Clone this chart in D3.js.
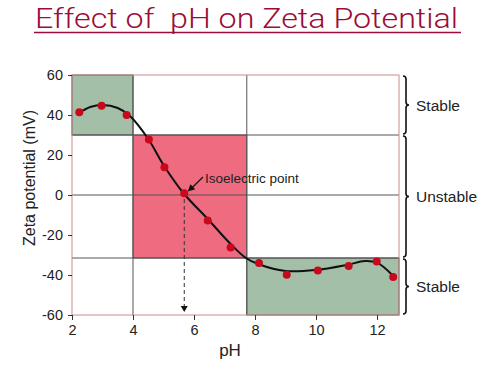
<!DOCTYPE html>
<html><head><meta charset="utf-8">
<script src="https://cdn.jsdelivr.net/npm/d3@7"></script>
<style>body{margin:0;background:#fff}svg{display:block}text{font-family:"Liberation Sans",Arial,sans-serif}</style>
</head><body><svg width="488" height="380"></svg>
<script>
// data
const titleText = "Effect of  pH on Zeta Potential";
const xLabel = "pH";
const yLabel = "Zeta potential (mV)";
const xTicks = [2, 4, 6, 8, 10, 12];
const yTicks = [-60, -40, -20, 0, 20, 40, 60];
const pointPH = [2.24, 2.97, 3.79, 4.52, 5.03, 5.68, 6.45, 7.2, 8.13, 9.04, 10.06, 11.07, 11.99, 12.53];
const pointZeta = [41.4, 44.6, 40, 27.8, 13.9, 0.9, -12.7, -26.3, -34, -39.9, -37.7, -35.5, -33.3, -41];
const curvePH = [2.22, 2.6, 3.0, 3.5, 3.9, 4.5, 5.0, 5.65, 6.45, 7.2, 7.7, 8.1, 9.0, 10.0, 11.0, 11.6, 12.0, 12.5];
const curveZeta = [41, 44, 45, 43.5, 39.5, 28, 15, 1, -12, -24.5, -31.5, -34.5, -38, -37.5, -35, -33, -33.8, -40];
const isoPH = 5.68;
const isoLabel = "Isoelectric point";
const zoneNames = ["Stable", "Unstable", "Stable"];
const zoneLow = [30, -31.5, -60];
const zoneHigh = [60, 30, -31.5];
const boxPH = [[2, 4], [4, 7.73], [7.73, 12.72]];
const boxZeta = [[30, 60], [-31.5, 30], [-60, -31.5]];
const boxColor = ["#a3bfa8", "#ef6b80", "#a3bfa8"];

const svg = d3.select("svg");
const x = d3.scaleLinear().domain([2, 12.72]).range([72, 399]);
const y = d3.scaleLinear().domain([-60, 60]).range([315, 75]);

// title
svg.append("text").attr("x", 246.5).attr("y", 28).attr("text-anchor", "middle")
  .attr("font-size", 28).attr("fill", "#9c0c36").style("font-family", "Roboto, 'Liberation Sans', sans-serif")
  .style("font-weight", 300).attr("textLength", 423).attr("lengthAdjust", "spacingAndGlyphs")
  .style("white-space", "pre").text(titleText);
svg.append("line").attr("x1", 34).attr("x2", 461).attr("y1", 32.5).attr("y2", 32.5)
  .attr("stroke", "#9c0c36").attr("stroke-width", 1.6);

// boxes
boxPH.forEach((b, i) => {
  svg.append("rect").attr("x", x(b[0])).attr("y", y(boxZeta[i][1]))
    .attr("width", x(b[1]) - x(b[0])).attr("height", y(boxZeta[i][0]) - y(boxZeta[i][1]))
    .attr("fill", boxColor[i]).attr("stroke", "#555").attr("stroke-width", 1);
});
// grid lines
const g = svg.append("g").attr("stroke", "#555").attr("stroke-width", 1);
[4, 7.73].forEach(v => g.append("line").attr("x1", x(v)).attr("x2", x(v)).attr("y1", y(60)).attr("y2", y(-60)));
[30, 0, -31.5].forEach(v => g.append("line").attr("x1", x(2)).attr("x2", x(12.72)).attr("y1", y(v)).attr("y2", y(v)));
// border
svg.append("rect").attr("x", x(2)).attr("y", y(60)).attr("width", x(12.72) - x(2)).attr("height", y(-60) - y(60))
  .attr("fill", "none").attr("stroke", "#c98c8c").attr("stroke-width", 1);

// axes
const ya = svg.append("g").attr("transform", `translate(${x(2)},0)`)
  .call(d3.axisLeft(y).tickValues(yTicks).tickSize(4).tickPadding(5).tickFormat(d => String(d)));
const xa = svg.append("g").attr("transform", `translate(0,${y(-60)})`)
  .call(d3.axisBottom(x).tickValues(xTicks).tickSize(5).tickPadding(5).tickFormat(d => String(d)));
[ya, xa].forEach(a => {
  a.select(".domain").remove();
  a.selectAll("line").attr("stroke", "#333");
  a.selectAll("text").attr("font-size", 14.5).attr("fill", "#222");
});
svg.append("text").attr("x", 230).attr("y", 356).attr("text-anchor", "middle").attr("font-size", 17).attr("fill", "#222").text(xLabel);
svg.append("text").attr("transform", "translate(35,178) rotate(-90)").attr("text-anchor", "middle")
  .attr("font-size", 16).attr("fill", "#222").text(yLabel);

// curve
const line = d3.line().x(d => x(d[0])).y(d => y(d[1])).curve(d3.curveCatmullRom.alpha(0.5));
svg.append("path").datum(curvePH.map((p, i) => [p, curveZeta[i]]))
  .attr("d", line).attr("fill", "none").attr("stroke", "#111").attr("stroke-width", 2);

// isoelectric dashed line
svg.append("line").attr("x1", x(isoPH)).attr("x2", x(isoPH)).attr("y1", y(0) + 4).attr("y2", y(-60) - 7)
  .attr("stroke", "#333").attr("stroke-width", 1).attr("stroke-dasharray", "4,3");
const ax = x(isoPH), ay = y(-60) - 3;
svg.append("path").attr("d", `M${ax - 3.5},${ay - 6}L${ax + 3.5},${ay - 6}L${ax},${ay}Z`).attr("fill", "#111");

// points
svg.append("g").selectAll("circle").data(pointPH.map((p, i) => [p, pointZeta[i]])).join("circle")
  .attr("cx", d => x(d[0])).attr("cy", d => y(d[1])).attr("r", 4).attr("fill", "#c8081c");

// annotation arrow
const tx = 203, ty = 177, hx = x(isoPH) + 3.5, hy = y(0) - 3.5;
svg.append("line").attr("x1", tx).attr("y1", ty).attr("x2", hx + 4).attr("y2", hy - 3.5).attr("stroke", "#111").attr("stroke-width", 1.2);
const ang = Math.atan2(hy - ty, hx - tx);
const L = 7, W = 3.5;
const bx = hx - L * Math.cos(ang), by = hy - L * Math.sin(ang);
svg.append("path").attr("d", `M${hx},${hy}L${bx - W * Math.sin(ang)},${by + W * Math.cos(ang)}L${bx + W * Math.sin(ang)},${by - W * Math.cos(ang)}Z`).attr("fill", "#111");
svg.append("text").attr("x", 205).attr("y", 183).attr("font-size", 13.5).attr("fill", "#222").text(isoLabel);

// braces
function brace(x0, y0, y1, w) {
  const ym = (y0 + y1) / 2;
  return `M${x0},${y0}Q${x0 + w},${y0} ${x0 + w},${y0 + w}L${x0 + w},${ym - w}Q${x0 + w},${ym} ${x0 + 2 * w},${ym}` +
    `Q${x0 + w},${ym} ${x0 + w},${ym + w}L${x0 + w},${y1 - w}Q${x0 + w},${y1} ${x0},${y1}`;
}
zoneNames.forEach((n, i) => {
  const y0 = y(zoneHigh[i]) + 1, y1 = y(zoneLow[i]) - 1;
  svg.append("path").attr("d", brace(403, y0, y1, 3)).attr("fill", "none").attr("stroke", "#111").attr("stroke-width", 1.6);
  svg.append("text").attr("x", 416).attr("y", (y0 + y1) / 2 + 5.5).attr("font-size", 15.5).attr("fill", "#222").text(n);
});
</script></body></html>
